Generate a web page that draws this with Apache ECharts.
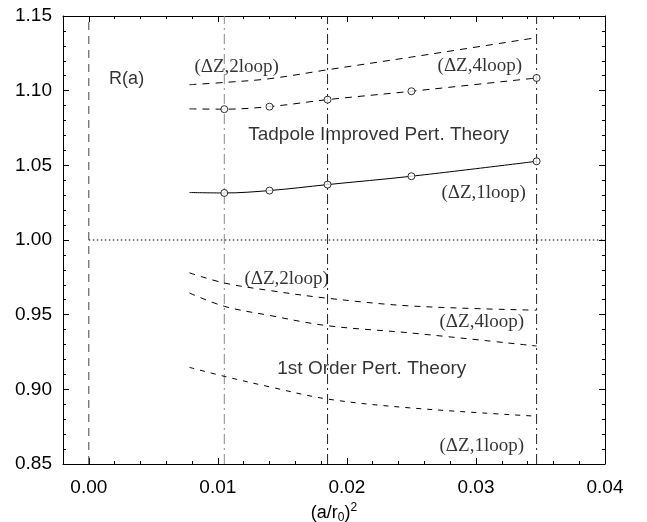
<!DOCTYPE html>
<html>
<head>
<meta charset="utf-8">
<script src="https://cdn.jsdelivr.net/npm/echarts@6/dist/echarts.min.js"></script>
<style>html,body{margin:0;padding:0;background:#fff}#c{width:647px;height:522px}</style>
</head>
<body>
<div id="c"></div>
<script>
// ---- data ----
const knotX = [0.0078, 0.0105, 0.014, 0.0185, 0.025, 0.0347];
const tadpole2loop = [1.1040, 1.1055, 1.1080, 1.1140, 1.1225, 1.1355];
const tadpole4loop = [1.0878, 1.0876, 1.0893, 1.0940, 1.0996, 1.1085];
const tadpole1loop = [1.0318, 1.0315, 1.0331, 1.0371, 1.0427, 1.0527];
const first2loop = [0.9780, 0.9712, 0.9662, 0.9610, 0.9558, 0.9530];
const first4loop = [0.9645, 0.9556, 0.9495, 0.9426, 0.9377, 0.9290];
const first1loop = [0.9147, 0.9087, 0.9017, 0.8935, 0.8875, 0.8820];
const refLineX = [0, 0.0105, 0.0185, 0.0347];
const refLineY = [0.85, 1.15];
const unityX = [0, 0.04];
const unityY = [1, 1];
const xMajorTicks = [0, 0.01, 0.02, 0.03, 0.04];
const yMajorTicks = [0.85, 0.90, 0.95, 1.00, 1.05, 1.10, 1.15];
const annotX = [0.00293, 0.01146, 0.0303, 0.02246, 0.0306, 0.01533, 0.03045, 0.02193, 0.03045];
const annotY = [1.1076, 1.1156, 1.1163, 1.0708, 1.0313, 0.9738, 0.9450, 0.9136, 0.8620];
const annotText = ['R(a)', '(ΔZ,2loop)', '(ΔZ,4loop)', 'Tadpole Improved Pert. Theory', '(ΔZ,1loop)',
  '(ΔZ,2loop)', '(ΔZ,4loop)', '1st Order Pert. Theory', '(ΔZ,1loop)'];
const annotSerif = [false, true, true, false, true, true, true, false, true];

const pairs = (xs, ys) => xs.map((x, i) => [x, ys[i]]);
const SANS = '"Liberation Sans", Arial, Helvetica, sans-serif';
const SERIF = '"Liberation Serif", "Times New Roman", serif';

const chart = echarts.init(document.getElementById('c'), null, {renderer: 'canvas'});

function curve(name, ys, dash) {
  return {
    name, type: 'line', data: pairs(knotX, ys), smooth: 0.35, showSymbol: false, symbol: 'none',
    lineStyle: {color: '#000', width: 1, type: dash}, silent: true, z: 3
  };
}
function circles(name, ys) {
  return {
    name: name + ' pts', type: 'scatter', data: pairs(knotX.slice(1), ys.slice(1)),
    symbol: 'circle', symbolSize: 7,
    itemStyle: {color: '#fff', borderColor: '#000', borderWidth: 1}, silent: true, z: 5
  };
}
const refStyles = [
  {color: '#444', width: 1, type: [8, 6]},
  {color: '#8a8a8a', width: 1, type: [10, 4, 2, 4]},
  {color: '#222', width: 1, type: [10, 4, 2, 4]},
  {color: '#222', width: 1, type: [10, 4, 2, 4]}
];
const refSeries = refLineX.map((x, i) => ({
  name: 'ref' + i, type: 'line', symbol: 'none', silent: true, z: 2,
  data: refLineY.map(y => [x, y]), lineStyle: refStyles[i]
}));

const tickStyle = {color: '#000', width: 1};
const axLine = {show: true, onZero: false, lineStyle: {color: '#000', width: 1}};
const noLine = {show: false, onZero: false};
const baseX = {type: 'value', min: -0.002, max: 0.04, splitLine: {show: false}};
const baseY = {type: 'value', min: 0.85, max: 1.15, splitLine: {show: false}};

const option = {
  backgroundColor: '#fff',
  animation: false,
  grid: {left: 63, right: 42, top: 16, bottom: 58, containLabel: false, outerBoundsMode: 'none'},
  xAxis: [
    Object.assign({}, baseX, {
      position: 'bottom', interval: 0.002,
      axisLine: axLine,
      axisTick: {show: true, inside: true, length: 3, lineStyle: tickStyle},
      axisLabel: {show: true, customValues: xMajorTicks, formatter: v => v.toFixed(2),
        color: '#000', fontSize: 19, fontFamily: SANS, margin: 14},
      name: '{n|(a/r}{s|0}{n|)}{p|2}', nameLocation: 'middle', nameGap: 31,
      nameTextStyle: {
        rich: {
          n: {fontSize: 18, fontFamily: SANS, color: '#000', lineHeight: 22, verticalAlign: 'middle'},
          s: {fontSize: 12, fontFamily: SANS, color: '#000', lineHeight: 22, verticalAlign: 'bottom'},
          p: {fontSize: 12, fontFamily: SANS, color: '#000', lineHeight: 22, verticalAlign: 'top'}
        }
      }
    }),
    Object.assign({}, baseX, {
      position: 'bottom', axisLine: noLine,
      axisTick: {show: true, inside: true, length: 6, customValues: xMajorTicks, lineStyle: tickStyle},
      axisLabel: {show: false}
    }),
    Object.assign({}, baseX, {
      position: 'top', interval: 0.002, axisLine: axLine,
      axisTick: {show: true, inside: true, length: 3, lineStyle: tickStyle},
      axisLabel: {show: false}
    }),
    Object.assign({}, baseX, {
      position: 'top', axisLine: noLine,
      axisTick: {show: true, inside: true, length: 6, customValues: xMajorTicks, lineStyle: tickStyle},
      axisLabel: {show: false}
    })
  ],
  yAxis: [
    Object.assign({}, baseY, {
      position: 'left', interval: 0.01, axisLine: axLine,
      axisTick: {show: true, inside: true, length: 3, lineStyle: tickStyle},
      axisLabel: {show: true, customValues: yMajorTicks, formatter: v => v.toFixed(2),
        color: '#000', fontSize: 19, fontFamily: SANS, margin: 11}
    }),
    Object.assign({}, baseY, {
      position: 'left', axisLine: noLine,
      axisTick: {show: true, inside: true, length: 6, customValues: yMajorTicks, lineStyle: tickStyle},
      axisLabel: {show: false}
    }),
    Object.assign({}, baseY, {
      position: 'right', interval: 0.01, axisLine: axLine,
      axisTick: {show: true, inside: true, length: 3, lineStyle: tickStyle},
      axisLabel: {show: false}
    }),
    Object.assign({}, baseY, {
      position: 'right', axisLine: noLine,
      axisTick: {show: true, inside: true, length: 6, customValues: yMajorTicks, lineStyle: tickStyle},
      axisLabel: {show: false}
    })
  ],
  series: refSeries.concat([
    {
      name: 'unity', type: 'line', data: pairs(unityX, unityY), symbol: 'none', silent: true,
      lineStyle: {color: '#000', width: 1, type: [1.5, 2.5]}
    },
    curve('Tadpole 2loop', tadpole2loop, [7, 6]),
    curve('Tadpole 4loop', tadpole4loop, [7, 6]),
    curve('Tadpole 1loop', tadpole1loop, 'solid'),
    circles('Tadpole 4loop', tadpole4loop),
    circles('Tadpole 1loop', tadpole1loop),
    curve('1st 2loop', first2loop, [6, 6]),
    curve('1st 4loop', first4loop, [6, 6]),
    curve('1st 1loop', first1loop, [5, 6]),
    {
      name: 'annotations', type: 'scatter', symbolSize: 1, silent: true, z: 10,
      itemStyle: {color: 'rgba(0,0,0,0)'},
      data: annotX.map((x, i) => ({
        value: [x, annotY[i]],
        label: {
          show: true, position: 'inside', formatter: annotText[i], color: '#000',
          fontSize: annotSerif[i] ? 19 : (i === 0 ? 18 : 19),
          fontFamily: annotSerif[i] ? SERIF : SANS
        }
      }))
    }
  ])
};
chart.setOption(option);
</script>
</body>
</html>
